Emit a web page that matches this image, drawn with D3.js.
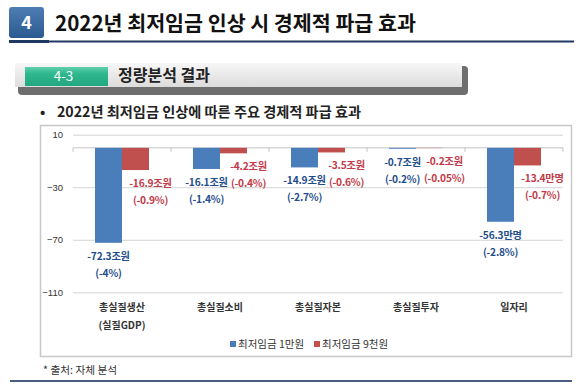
<!DOCTYPE html>
<html>
<head>
<meta charset="utf-8">
<script src="https://cdn.jsdelivr.net/npm/d3@7"></script>
<style>
  body { margin: 0; background: #fff; }
  svg { display: block; font-family: "Noto Sans CJK KR", "Noto Sans", sans-serif; }
</style>
</head>
<body>
<script>
// chart data
let categories = ["총실질생산", "총실질소비", "총실질자본", "총실질투자", "일자리"];
let categorySub = ["(실질GDP)", "", "", "", ""];
let seriesNames = ["최저임금 1만원", "최저임금 9천원"];
let values10k = [-72.3, -16.1, -14.9, -0.7, -56.3];
let values9k = [-16.9, -4.2, -3.5, -0.2, -13.4];
let units = ["조원", "조원", "조원", "조원", "만명"];
let pct10k = ["(-4%)", "(-1.4%)", "(-2.7%)", "(-0.2%)", "(-2.8%)"];
let pct9k = ["(-0.9%)", "(-0.4%)", "(-0.6%)", "(-0.05%)", "(-0.7%)"];
let yTicks = [10, -30, -70, -110];

let colors = ["#4a7ebb", "#c0504d"];
let labelColors = ["#1f4e8c", "#c23a48"];

let width = 580, height = 387;
let plot = { left: 73, right: 563, top: 134.7, bottom: 292.3 };

let svg = d3.select("body").append("svg")
  .attr("width", width)
  .attr("height", height);

let defs = svg.append("defs");

// gradients for the header boxes
let gBlue = defs.append("linearGradient").attr("id", "gBlue").attr("x1", 0).attr("y1", 0).attr("x2", 0).attr("y2", 1);
gBlue.append("stop").attr("offset", "0%").attr("stop-color", "#4d7db3");
gBlue.append("stop").attr("offset", "100%").attr("stop-color", "#2a5a90");

let gGreen = defs.append("linearGradient").attr("id", "gGreen").attr("x1", 0).attr("y1", 0).attr("x2", 0).attr("y2", 1);
gGreen.append("stop").attr("offset", "0%").attr("stop-color", "#5fd0ad");
gGreen.append("stop").attr("offset", "35%").attr("stop-color", "#2fb78e");
gGreen.append("stop").attr("offset", "100%").attr("stop-color", "#22a77f");

let gBar = defs.append("linearGradient").attr("id", "gBar").attr("x1", 0).attr("y1", 0).attr("x2", 0).attr("y2", 1);
gBar.append("stop").attr("offset", "0%").attr("stop-color", "#f7f7f7");
gBar.append("stop").attr("offset", "100%").attr("stop-color", "#dcdcdc");

/*************** PAGE HEADER ***************/
svg.append("rect")
  .attr("x", 9).attr("y", 7).attr("width", 35).attr("height", 31).attr("rx", 3)
  .attr("fill", "url(#gBlue)");
svg.append("text")
  .attr("x", 26.5).attr("y", 29)
  .attr("text-anchor", "middle")
  .attr("fill", "#fff").attr("font-size", 18).attr("font-weight", "bold")
  .text("4");
svg.append("text")
  .attr("x", 55).attr("y", 30.5)
  .attr("fill", "#111").attr("font-size", 20.6).attr("font-weight", "bold")
  .text("2022년 최저임금 인상 시 경제적 파급 효과");
svg.append("rect").attr("x", 9).attr("y", 40.5).attr("width", 565).attr("height", 2).attr("fill", "#1f3864");
svg.append("rect").attr("x", 9).attr("y", 40).attr("width", 40).attr("height", 3).attr("fill", "#1f3864");

// section bar
svg.append("rect")
  .attr("x", 18).attr("y", 66).attr("width", 450).attr("height", 29).attr("rx", 4)
  .attr("fill", "#6e6e6e");
svg.append("rect")
  .attr("x", 15).attr("y", 63).attr("width", 447).attr("height", 24)
  .attr("fill", "url(#gBar)");
svg.append("rect")
  .attr("x", 25).attr("y", 67).attr("width", 83).attr("height", 19)
  .attr("fill", "url(#gGreen)");
svg.append("text")
  .attr("x", 63.5).attr("y", 81)
  .attr("text-anchor", "middle")
  .attr("fill", "#fff").attr("font-size", 13.5)
  .text("4-3");
svg.append("text")
  .attr("x", 118).attr("y", 80.5)
  .attr("fill", "#222").attr("font-size", 16).attr("font-weight", "bold")
  .text("정량분석 결과");

// bullet title
svg.append("text")
  .attr("x", 40).attr("y", 117)
  .attr("fill", "#222").attr("font-size", 14).attr("font-weight", "bold")
  .text("•");
svg.append("text")
  .attr("x", 57).attr("y", 117)
  .attr("fill", "#222").attr("font-size", 14.2).attr("font-weight", "bold")
  .text("2022년 최저임금 인상에 따른 주요 경제적 파급 효과");

/*************** CHART ***************/
// chart frame
svg.append("rect")
  .attr("x", 40.5).attr("y", 125.5).attr("width", 531).attr("height", 231)
  .attr("fill", "#fff").attr("stroke", "#c8c8c8").attr("stroke-width", 1.5);

let yScale = d3.scaleLinear()
  .domain([10, -110])
  .range([plot.top, plot.bottom]);

let xScale = d3.scaleBand()
  .domain(categories)
  .range([plot.left, plot.right])
  .paddingInner(0.449)
  .paddingOuter(0.2245);

let xSub = d3.scaleBand()
  .domain([0, 1])
  .range([0, xScale.bandwidth()]);

// y gridlines and tick labels
let yAxis = d3.axisLeft(yScale)
  .tickValues(yTicks)
  .tickSize(-(plot.right - plot.left))
  .tickPadding(10)
  .tickFormat(d3.format("d"));

let yG = svg.append("g")
  .attr("transform", "translate(" + plot.left + ",0)")
  .call(yAxis);
yG.select(".domain").remove();
yG.selectAll(".tick line").attr("stroke", "#d4d4d4");
yG.selectAll(".tick text")
  .attr("fill", "#333")
  .attr("font-size", 9.5)
  .attr("font-family", "'Liberation Sans', Arial, sans-serif");

// category axis along zero
let y0 = yScale(0);
svg.append("line")
  .attr("x1", plot.left).attr("x2", plot.right)
  .attr("y1", y0).attr("y2", y0)
  .attr("stroke", "#c4c4c4");
let boundaries = d3.range(categories.length + 1).map(i => plot.left + i * xScale.step());
svg.selectAll(".cat-tick")
  .data(boundaries)
  .enter()
  .append("line")
  .attr("x1", d => d).attr("x2", d => d)
  .attr("y1", y0).attr("y2", y0 + 4)
  .attr("stroke", "#c4c4c4");

// bars
let rows = categories.map((c, i) => ({
  cat: c,
  vals: [values10k[i], values9k[i]],
  pcts: [pct10k[i], pct9k[i]],
  unit: units[i]
}));

let groups = svg.selectAll(".group")
  .data(rows)
  .enter()
  .append("g")
  .attr("transform", d => "translate(" + xScale(d.cat) + ",0)");

groups.selectAll("rect")
  .data(d => d.vals.map((v, s) => ({ v: v, s: s })))
  .enter()
  .append("rect")
  .attr("x", d => xSub(d.s))
  .attr("y", y0)
  .attr("width", xSub.bandwidth())
  .attr("height", d => yScale(d.v) - y0)
  .attr("fill", d => colors[d.s]);

// data labels below bars
let labelShift = [0, 15];
groups.each(function (d) {
  let g = d3.select(this);
  d.vals.forEach((v, s) => {
    let cx = xSub(s) + xSub.bandwidth() / 2 + labelShift[s];
    let yEnd = yScale(v);
    g.append("text")
      .attr("x", cx).attr("y", yEnd + 17)
      .attr("text-anchor", "middle")
      .attr("fill", labelColors[s])
      .attr("font-size", 10.2).attr("font-weight", "bold")
      .attr("letter-spacing", -0.2)
      .text(v.toFixed(1) + d.unit);
    g.append("text")
      .attr("x", cx).attr("y", yEnd + 34)
      .attr("text-anchor", "middle")
      .attr("fill", labelColors[s])
      .attr("font-size", 10.2).attr("font-weight", "bold")
      .attr("letter-spacing", -0.2)
      .text(d.pcts[s]);
  });
});

// category labels
categories.forEach((c, i) => {
  let cx = xScale(c) + xScale.bandwidth() / 2;
  svg.append("text")
    .attr("x", cx).attr("y", 310.5)
    .attr("text-anchor", "middle")
    .attr("fill", "#333").attr("font-size", 10).attr("font-weight", "bold")
    .text(c);
  if (categorySub[i]) {
    svg.append("text")
      .attr("x", cx).attr("y", 328.5)
      .attr("text-anchor", "middle")
      .attr("fill", "#333").attr("font-size", 10).attr("font-weight", "bold")
      .text(categorySub[i]);
  }
});

// legend
let legendX = [230, 314];
seriesNames.forEach((name, s) => {
  svg.append("rect")
    .attr("x", legendX[s]).attr("y", 341)
    .attr("width", 6).attr("height", 6)
    .attr("fill", colors[s]);
  svg.append("text")
    .attr("x", legendX[s] + 8).attr("y", 348)
    .attr("fill", "#333").attr("font-size", 10.5)
    .text(name);
});

// source note and bottom rule
svg.append("text")
  .attr("x", 43).attr("y", 374)
  .attr("fill", "#333").attr("font-size", 10.7)
  .text("* 출처: 자체 분석");
svg.append("rect")
  .attr("x", 10).attr("y", 380).attr("width", 562).attr("height", 2)
  .attr("fill", "#4a5f80");
</script>
</body>
</html>
